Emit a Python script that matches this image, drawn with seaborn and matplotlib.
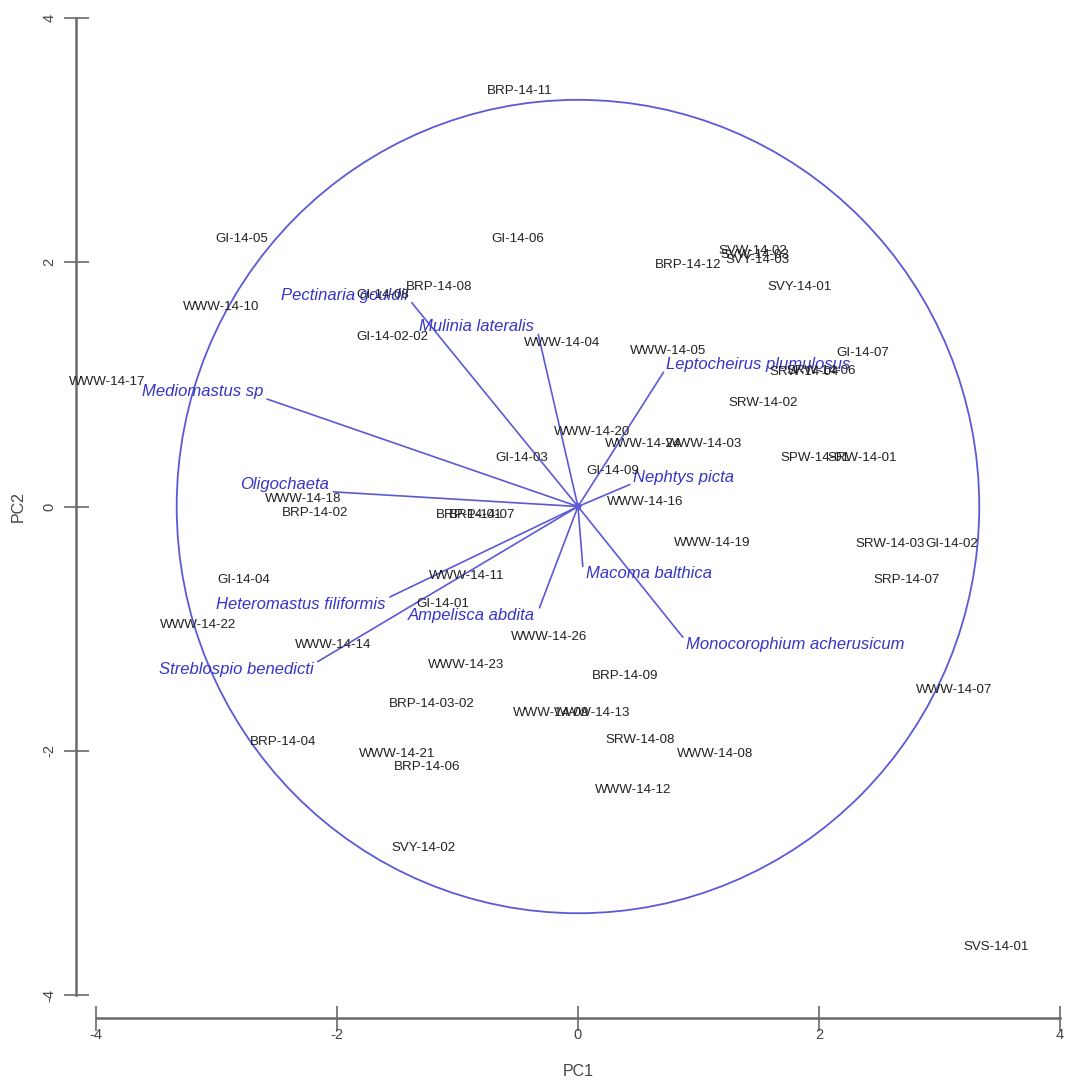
import matplotlib
matplotlib.use("Agg")
import matplotlib.pyplot as plt
from matplotlib.patches import Circle
import seaborn as sns
import pandas as pd

# ---------------------------------------------------------------
# Dados - vetores das especies (loadings) e escores das amostras
# ---------------------------------------------------------------
especies = ["Mediomastus sp", "Oligochaeta", "Heteromastus filiformis",
            "Streblospio benedicti", "Ampelisca abdita", "Macoma balthica",
            "Monocorophium acherusicum", "Nephtys picta",
            "Leptocheirus plumulosus", "Mulinia lateralis", "Pectinaria gouldii"]
especies_pc1 = [-2.58, -2.03, -1.56, -2.16, -0.32, 0.04, 0.87, 0.43, 0.71, -0.33, -1.38]
especies_pc2 = [0.88, 0.12, -0.74, -1.27, -0.83, -0.49, -1.07, 0.18, 1.10, 1.41, 1.67]

amostras = ["BRP-14-11", "GI-14-05", "GI-14-06", "WWW-14-10", "BRP-14-08", "GI-14-08",
            "GI-14-02-02", "WWW-14-04", "WWW-14-05", "BRP-14-12", "SVW-14-02", "SVW-14-03",
            "SVY-14-03", "SVY-14-01", "GI-14-07", "SRW-14-04", "SRW-14-06", "SRW-14-02",
            "WWW-14-20", "WWW-14-24", "WWW-14-03", "SPW-14-01", "SRW-14-01", "GI-14-03",
            "GI-14-09", "WWW-14-16", "WWW-14-18", "BRP-14-02", "BRP-14-01", "BRP-14-07",
            "WWW-14-19", "SRW-14-03", "GI-14-02", "SRP-14-07", "GI-14-04", "WWW-14-11",
            "GI-14-01", "WWW-14-22", "WWW-14-14", "WWW-14-26", "WWW-14-23", "BRP-14-09",
            "BRP-14-03-02", "WWW-14-09", "WWW-14-13", "SRW-14-08", "WWW-14-08", "WWW-14-12",
            "WWW-14-07", "SVS-14-01", "BRP-14-04", "WWW-14-21", "BRP-14-06", "SVY-14-02",
            "WWW-14-17"]
amostras_pc1 = [-0.48, -2.79, -0.50, -2.96, -1.15, -1.62, -1.54, -0.13, 0.75, 0.91, 1.45, 1.47,
                1.49, 1.84, 2.36, 1.88, 2.02, 1.54, 0.12, 0.54, 1.05, 1.97, 2.36, -0.47,
                0.29, 0.56, -2.28, -2.18, -0.90, -0.80, 1.11, 2.59, 3.10, 2.73, -2.77, -0.92,
                -1.12, -3.15, -2.03, -0.24, -0.93, 0.39, -1.21, -0.22, 0.12, 0.52, 1.14, 0.46,
                3.12, 3.47, -2.45, -1.50, -1.25, -1.28, -3.91]
amostras_pc2 = [3.40, 2.19, 2.19, 1.63, 1.80, 1.73, 1.39, 1.34, 1.27, 1.98, 2.09, 2.06,
                2.02, 1.80, 1.26, 1.10, 1.11, 0.85, 0.61, 0.51, 0.51, 0.40, 0.40, 0.40,
                0.29, 0.04, 0.06, -0.05, -0.07, -0.07, -0.30, -0.31, -0.31, -0.60, -0.60, -0.57,
                -0.80, -0.97, -1.13, -1.07, -1.30, -1.39, -1.62, -1.69, -1.69, -1.91, -2.03, -2.32,
                -1.50, -3.61, -1.93, -2.03, -2.13, -2.80, 1.02]

raio_circulo = 3.33
eixo_ticks = [-4, -2, 0, 2, 4]

tb_especies = pd.DataFrame({"Especie": especies, "PC1": especies_pc1, "PC2": especies_pc2})
tb_amostras = pd.DataFrame({"Amostra": amostras, "PC1": amostras_pc1, "PC2": amostras_pc2})

# ---------------------------------------------------------------
# Estilo
# ---------------------------------------------------------------
sns.set_theme(style="ticks")
plt.rcParams["font.family"] = ["Liberation Sans", "DejaVu Sans"]
plt.rcParams["axes.unicode_minus"] = False

azul_linha = "#5a5ad6"
azul_texto = "#3535c8"
cinza = "#6a6a6a"

fig = plt.figure(figsize=(10.65, 10.85), dpi=100)
ax = fig.add_axes([0.0901, 0.0829, 0.9052, 0.9005])

# circulo de correlacao
ax.add_patch(Circle((0, 0), raio_circulo, fill=False, edgecolor=azul_linha, lw=1.3))

# vetores das especies
for _, row in tb_especies.iterrows():
    ax.plot([0, row["PC1"]], [0, row["PC2"]], color=azul_linha, lw=1.2)
    esquerda = row["PC1"] < 0
    ha = "right" if esquerda else "left"
    va = "bottom" if row["PC2"] > 0 else "top"
    ax.annotate(row["Especie"], (row["PC1"], row["PC2"]), xytext=(-3 if esquerda else 2, 0),
                textcoords="offset points", color=azul_texto, fontsize=12,
                style="italic", ha=ha, va=va)

sns.scatterplot(x=[0], y=[0], color=azul_linha, s=25, edgecolor="none", ax=ax)

# rotulos das amostras
for _, row in tb_amostras.iterrows():
    ax.text(row["PC1"], row["PC2"], row["Amostra"], color="#222222", fontsize=9.6,
            ha="center", va="center", clip_on=False)

ax.set_xlim(-4, 4)
ax.set_ylim(-4, 4)
ax.set_xticks(eixo_ticks)
ax.set_yticks(eixo_ticks)
ax.set_xlabel("PC1", fontsize=11.5, color="#444444", labelpad=16)
ax.set_ylabel("PC2", fontsize=11.5, color="#444444", labelpad=12)

sns.despine(ax=ax, offset={"left": 14.5, "bottom": 16.5})
for s in ["left", "bottom"]:
    ax.spines[s].set_color(cinza)
    ax.spines[s].set_linewidth(1.8)

ax.tick_params(axis="both", direction="inout", length=18, width=1.2, color=cinza,
               labelcolor="#444444", labelsize=10.5)
ax.tick_params(axis="x", pad=-2)
ax.tick_params(axis="y", pad=5)
for lbl in ax.get_yticklabels():
    lbl.set_rotation(90)
    lbl.set_va("center")

plt.savefig("out.png", dpi=100)
